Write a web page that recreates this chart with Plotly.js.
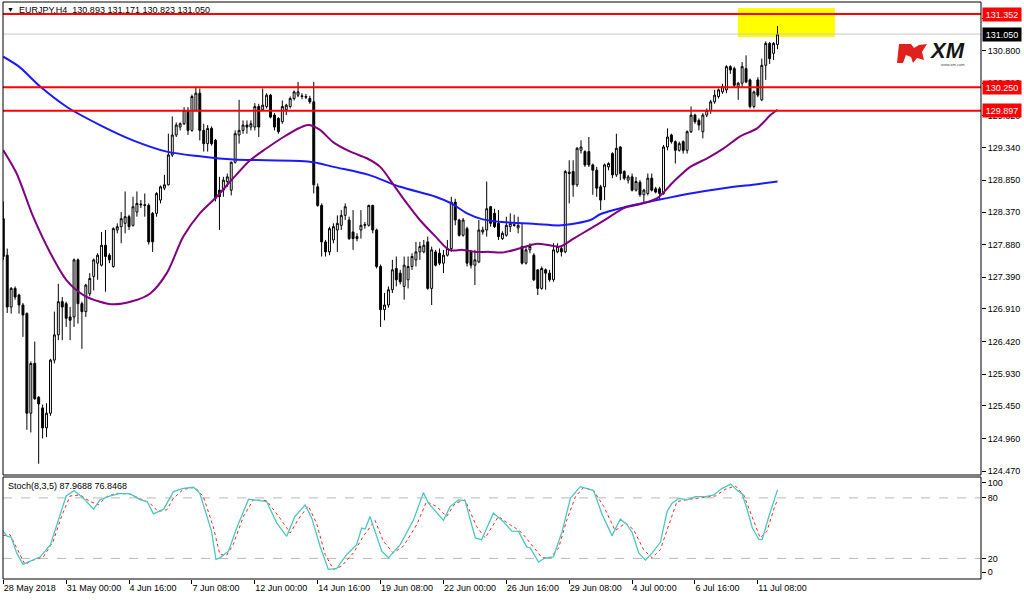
<!DOCTYPE html>
<html><head><meta charset="utf-8">
<script src="https://cdn.plot.ly/plotly-3.0.1.min.js"></script>
<style>html,body{margin:0;padding:0;background:#fff;}#chart{width:1024px;height:600px;}</style>
</head><body><div id="chart"></div>
<script>
// ---------- DATA ----------
const symbolTitle = 'EURJPY,H4\u00a0\u00a0130.893 131.171 130.823 131.050';
const stochTitle = 'Stoch(8,3,5) 87.9688 76.8468';
// [open, high, low, close] per H4 bar
const ohlc = [
[128.27,128.53,127.65,127.70],[127.72,127.82,126.85,126.94],[126.94,127.24,126.84,127.22],[127.22,127.25,127.05,127.09],
[127.12,127.14,126.84,126.97],[126.97,127.00,126.49,126.82],[126.84,126.86,125.09,125.34],[125.34,126.12,125.05,126.09],
[126.09,126.42,125.54,125.56],[125.58,125.60,124.58,125.48],[125.42,125.47,124.96,125.12],[125.12,125.49,124.98,125.34],
[125.34,126.16,125.30,126.14],[126.14,126.87,126.09,126.52],[126.52,127.29,126.44,127.02],[127.02,127.09,126.44,126.94],
[126.99,127.02,126.64,126.77],[126.79,126.94,126.44,126.74],[126.79,127.67,126.64,127.65],[127.65,127.67,126.69,126.99],
[126.99,127.02,126.31,126.87],[126.87,127.29,126.79,127.27],[127.14,127.45,127.10,127.37],[127.40,127.67,127.19,127.65],
[127.60,127.75,127.35,127.72],[127.57,128.07,127.55,127.87],[127.87,128.10,127.17,127.70],[127.72,127.75,127.60,127.65],
[127.55,128.14,127.53,128.12],[128.10,128.20,128.05,128.15],[128.15,128.37,127.90,128.27],[128.20,128.68,128.05,128.30],
[128.30,128.33,128.10,128.15],[128.17,128.60,128.15,128.45],[128.37,128.68,128.30,128.50],[128.49,128.55,128.43,128.48],
[128.48,128.65,128.30,128.47],[128.47,128.50,127.88,127.92],[128.35,128.37,127.77,127.92],[128.35,128.67,128.30,128.65],
[128.55,128.77,128.50,128.75],[128.73,128.93,128.70,128.78],[128.78,129.55,128.77,129.23],[129.23,129.81,129.20,129.53],
[129.53,129.72,129.50,129.68],[129.65,129.72,129.60,129.70],[129.70,129.95,129.68,129.90],[129.90,129.95,129.53,129.60],
[129.60,130.14,129.58,130.11],[129.90,130.26,129.88,130.16],[130.16,130.23,129.45,129.60],[129.60,129.70,129.28,129.40],
[129.40,129.68,129.28,129.63],[129.63,129.66,129.37,129.40],[129.45,129.47,128.53,128.58],[128.70,128.90,128.10,128.60],
[128.70,128.90,128.60,128.85],[128.83,128.95,128.75,128.90],[128.70,129.13,128.62,129.12],[129.12,129.60,129.10,129.55],
[129.53,130.06,129.40,129.60],[129.60,129.75,129.55,129.68],[129.68,129.75,129.55,129.65],[129.65,129.75,129.60,129.70],
[129.65,130.01,129.60,129.96],[129.96,130.00,129.50,129.65],[129.91,130.23,129.90,129.98],[129.96,130.16,129.93,130.13],
[130.13,130.15,129.78,129.80],[129.83,129.86,129.60,129.65],[129.78,129.80,129.55,129.58],[129.73,130.05,129.70,129.96],
[129.91,130.00,129.83,129.98],[129.96,130.11,129.93,130.08],[130.08,130.20,130.05,130.18],[130.13,130.33,130.10,130.18],
[130.12,130.16,130.07,130.11],[130.11,130.15,130.07,130.10],[130.08,130.12,130.00,130.03],[130.03,130.33,128.65,128.78],
[128.75,128.80,128.45,128.47],[128.47,128.50,127.70,127.92],[127.92,127.95,127.70,127.77],[127.77,128.15,127.72,128.12],
[127.95,128.20,127.90,128.15],[128.10,128.32,127.77,128.20],[128.17,128.40,128.10,128.32],[128.32,128.50,128.25,128.45],
[128.25,128.30,127.95,127.97],[128.07,128.40,127.80,127.97],[127.97,128.05,127.93,128.00],[128.10,128.40,127.97,128.17],
[128.17,128.22,128.12,128.18],[128.17,128.48,128.15,128.47],[128.47,128.48,128.05,128.10],[128.10,128.12,127.52,127.55],
[127.55,127.58,126.64,126.90],[126.90,127.15,126.74,126.97],[126.97,127.25,126.93,127.20],[127.20,127.65,127.15,127.50],
[127.52,127.70,127.25,127.35],[127.45,127.50,127.28,127.32],[127.25,127.70,127.05,127.57],[127.35,127.70,127.22,127.55],
[127.55,127.75,127.50,127.70],[127.65,127.92,127.55,127.77],[127.77,127.92,127.65,127.85],[127.77,127.95,127.75,127.87],
[127.92,128.00,127.20,127.22],[127.22,127.85,126.97,127.80],[127.77,127.80,127.55,127.57],[127.75,127.82,127.57,127.60],
[127.60,127.80,127.45,127.72],[127.72,127.95,127.70,127.82],[127.82,128.60,127.77,128.52],[128.52,128.57,128.17,128.25],
[128.25,128.27,128.00,128.02],[128.02,128.28,128.00,128.25],[128.12,128.15,127.55,127.60],[127.77,127.80,127.52,127.57],
[127.57,127.80,127.27,127.65],[127.62,128.25,127.60,128.10],[128.07,128.15,128.03,128.10],[128.10,128.83,128.00,128.42],
[128.45,128.46,128.15,128.20],[128.35,128.42,128.13,128.15],[128.20,128.40,127.95,128.00],[127.97,128.08,127.95,128.05],
[128.02,128.30,128.00,128.17],[128.15,128.35,128.07,128.20],[128.18,128.33,128.15,128.17],[128.13,128.30,128.05,128.17],
[127.85,128.20,127.58,127.60],[127.60,127.85,127.58,127.80],[127.80,127.90,127.75,127.85],[127.72,127.75,127.33,127.35],
[127.50,127.50,127.12,127.22],[127.22,127.55,127.20,127.52],[127.50,127.52,127.20,127.45],[127.45,127.50,127.32,127.35],
[127.35,127.90,127.32,127.80],[127.77,127.90,127.75,127.85],[127.82,127.85,127.70,127.77],[127.77,129.00,127.75,128.98],
[128.97,129.15,128.50,128.95],[128.98,129.15,128.60,128.78],[128.78,129.35,128.75,129.33],[129.30,129.45,129.25,129.35],
[129.28,129.30,129.05,129.08],[129.28,129.50,129.05,129.08],[129.08,129.10,128.63,129.00],[129.00,129.05,128.60,128.73],
[128.75,128.78,128.40,128.55],[128.75,129.10,128.55,129.08],[129.05,129.12,129.00,129.10],[129.25,129.27,128.88,128.93],
[128.93,129.55,128.90,129.33],[129.35,129.36,128.85,128.95],[128.98,129.00,128.85,128.88],[128.85,128.93,128.80,128.90],
[128.90,128.95,128.68,128.70],[128.70,128.90,128.68,128.83],[128.82,128.85,128.60,128.63],[128.63,128.72,128.50,128.70],
[128.65,128.95,128.62,128.88],[128.88,128.95,128.68,128.70],[128.72,128.75,128.65,128.67],[128.72,128.75,128.55,128.65],
[128.65,129.38,128.63,129.35],[129.35,129.63,129.30,129.50],[129.53,129.55,129.40,129.43],[129.43,129.45,129.10,129.30],
[129.30,129.43,129.28,129.40],[129.43,129.45,129.25,129.30],[129.30,129.60,129.25,129.58],[129.58,129.96,129.56,129.83],
[129.83,129.85,129.70,129.73],[129.75,129.78,129.60,129.68],[129.58,129.86,129.48,129.83],[129.83,129.93,129.80,129.90],
[129.90,130.06,129.85,130.03],[130.03,130.21,130.00,130.13],[130.11,130.23,130.08,130.21],[130.18,130.30,130.15,130.26],
[130.21,130.58,130.16,130.56],[130.56,130.58,130.45,130.51],[130.53,130.56,130.25,130.28],[130.26,130.33,130.06,130.31],
[130.31,130.63,130.26,130.56],[130.53,130.73,130.31,130.33],[130.36,130.38,129.93,129.96],[129.96,130.20,129.93,130.18],
[130.36,130.40,130.10,130.13],[130.06,130.68,130.04,130.58],[130.58,130.94,130.36,130.91],[130.91,130.93,130.60,130.68],
[130.76,130.93,130.66,130.91],[130.893,131.171,130.823,131.050]
];
const tickBars = [0,16,32,48,64,80,96,112,128,144,160,176,192];
const tickLabels = ['28 May 2018','31 May 00:00','4 Jun 16:00','7 Jun 08:00','12 Jun 00:00','14 Jun 16:00','19 Jun 08:00','22 Jun 00:00','26 Jun 16:00','29 Jun 08:00','4 Jul 00:00','6 Jul 16:00','11 Jul 08:00'];
const priceTicks = [124.47,124.96,125.45,125.93,126.42,126.91,127.39,127.88,128.37,128.85,129.34,129.82,130.31,130.80,131.29];
const levelPrices = [131.352, 130.250, 129.897];
const bidPrice = 131.050;
const zoneBars = [186.9, 211.6];
const zonePrices = [131.006, 131.443];
// slow moving average (blue)
const maSlowX = [0,4,9.4,16,24.6,33,41.6,50,58.5,67,75.5,79,84,93,101,110,114,118,122,127,135.5,142,149.4,152,157.9,166.4,174.8,183.3,191.8,197];
const maSlowY = [130.71,130.56,130.26,129.96,129.68,129.45,129.28,129.21,129.16,129.15,129.14,129.12,129.05,128.93,128.75,128.60,128.50,128.35,128.26,128.22,128.19,128.17,128.25,128.34,128.44,128.55,128.65,128.73,128.79,128.83];
// fast moving average (purple)
const maFastX = [0,3.4,7.6,12,16,20.4,24.6,28,33,37.3,41.6,45.8,50,54.3,58.5,62.8,67,71.3,75.5,77.6,80.5,84,88.3,92.5,95.9,99.3,102.7,106,110,113.5,116.9,120.3,123.7,127,131.3,135.5,139,141.7,145.1,149.4,153.6,157.9,162.1,166.4,170.6,174.8,179.1,183.3,187.5,191.8,195.2,197];
const maFastY = [129.30,128.95,128.30,127.75,127.35,127.12,127.02,126.98,127.03,127.14,127.45,128.00,128.35,128.60,128.88,129.15,129.33,129.50,129.64,129.68,129.61,129.42,129.28,129.18,129.05,128.78,128.50,128.25,128.00,127.80,127.80,127.77,127.77,127.76,127.82,127.89,127.87,127.85,127.97,128.12,128.27,128.43,128.49,128.58,128.83,129.05,129.18,129.33,129.51,129.63,129.83,129.91];
// stochastic main line
const stochMainX = [0,1,2,3.4,5,6.9,9.4,12,13.6,16,18,20.4,23,24.6,27.2,29.8,32.3,34.9,36.6,38.2,40.8,43.3,45.8,48.4,50,51.3,53,54.1,55.1,57.3,59.4,62.4,63.6,67,69.6,72.1,74.2,76.8,78.5,80.6,82.7,84.8,87.4,89.9,91.2,92.1,93.3,95,96.3,98,101,104.4,106.9,108.2,112,113.7,115.8,117.5,120.1,121.7,124.7,127.2,129.4,131.1,133.2,134.1,136.2,137.9,140,142.2,144.3,146.8,149,150.2,152.4,154.9,157,158.7,160,161.7,163.4,165.1,167.2,168.9,170.2,171.9,174,176.1,178.7,180.8,182.9,185.1,186.8,188,189.3,190.6,192.3,193.1,194.8,197];
const stochMainY = [46.8,41.9,41,25.5,14.1,17.3,21.6,33.7,53.4,81.9,87.2,79.6,68.8,78,81.9,84.5,83.9,78,76.4,64.2,68.8,86.2,89.5,90.5,84.5,68.2,46.8,19.0,20.6,27.2,50.1,78.7,78,76.4,55,41.9,61.6,73,59.9,32.1,9.1,9.8,23.9,33.7,50.1,49.1,61.6,41.9,27.2,20.6,33.7,58.3,85.2,74.7,57.7,71.4,78,77.3,40.3,38.6,64.9,56.7,47,46.8,31.4,30.4,16.3,20.6,21.6,46.8,79.6,91.1,88.5,87.2,63.2,42.6,59.0,53.4,45.9,25.5,18.3,25.5,36.0,66.5,74.7,79.6,78,81.3,81.3,82.9,89.5,93.7,87.2,83.9,68.2,50.1,38.6,38.6,61.6,87.97];
// stochastic signal line
const stochSignalX = [0,1.7,3.4,5.5,7.6,10.2,12.7,14.8,17,19.5,22.1,24.2,26.3,28.8,32.2,34.8,37.3,39.4,41.6,43.3,45.8,48.8,50.9,53.4,55.1,56.8,58.5,61.1,63.6,67,70.4,73,75.1,77.6,79.7,81.9,84,86.1,89.1,91.6,94.6,96.7,99.2,101.8,105.2,107.7,110.3,112.8,115,117.5,120.4,122.6,126,128.9,130.3,132,134.5,137.1,139.2,141.3,143.4,145.6,147.7,150.2,152.8,155.7,158.3,160.4,162.9,165.1,167.2,169.3,171.4,174.4,177.8,181.2,183.7,186.3,188.4,190.5,192.6,194.3,196.4,197];
const stochSignalY = [42.6,43.6,30.4,14.1,18.3,21.6,37.0,61.6,81.9,82.9,76.4,73.1,81.3,84.5,83.9,79.6,74.7,66.5,68.2,79.6,88.5,90.5,81.3,51.8,23.9,22.9,33.7,61.6,78,77.3,59.9,45.2,59.0,72.1,55,23.9,9.1,12.4,25.5,41.9,57.7,37.0,25.5,32.1,53.4,76.4,71.4,61.6,74.7,78,51.8,40.3,61.6,53.4,50.1,45.2,33.7,20.6,20.6,30.4,58.3,81.3,90.5,87.2,71.4,47.5,55,48.5,28.8,20.6,28.8,53.4,76.4,78.6,80.6,81.9,88.5,91.8,82.9,61.6,40.3,46.8,73.1,76.85];
const stochLevels = [20, 80];
const stochTickVals = [94.8, 80, 20, 6.3];
const stochTickText = ['100', '80', '20', '0'];

// ---------- LAYOUT HELPERS ----------
const W = 1024, H = 600, ML = 3, MR = 43, MT = 2, MB = 21;
const PW = W - ML - MR, PH = H - MT - MB;
const pxX = x => (x - ML) / PW;
const pxY = y => (H - MB - y) / PH;
const FONT = 'Liberation Sans, Arial, sans-serif';

const barIndex = ohlc.map((_, i) => i);
const traces = [
  { type: 'candlestick', x: barIndex,
    open: ohlc.map(r => r[0]), high: ohlc.map(r => r[1]), low: ohlc.map(r => r[2]), close: ohlc.map(r => r[3]),
    xaxis: 'x', yaxis: 'y', whiskerwidth: 0,
    increasing: { line: { color: '#000', width: 1 }, fillcolor: '#ffffff' },
    decreasing: { line: { color: '#000', width: 1 }, fillcolor: '#000000' },
    hoverinfo: 'skip', showlegend: false },
  { type: 'scatter', mode: 'lines', x: maSlowX, y: maSlowY, xaxis: 'x', yaxis: 'y',
    line: { color: '#1a1aff', width: 2, shape: 'spline', smoothing: 0.8 }, hoverinfo: 'skip' },
  { type: 'scatter', mode: 'lines', x: maFastX, y: maFastY, xaxis: 'x', yaxis: 'y',
    line: { color: '#800080', width: 2, shape: 'spline', smoothing: 0.8 }, hoverinfo: 'skip' },
  { type: 'scatter', mode: 'lines', x: stochSignalX, y: stochSignalY, xaxis: 'x', yaxis: 'y2',
    line: { color: '#ff2020', width: 1, dash: 'dot' }, hoverinfo: 'skip' },
  { type: 'scatter', mode: 'lines', x: stochMainX, y: stochMainY, xaxis: 'x', yaxis: 'y2',
    line: { color: '#48c8c0', width: 1.3 }, hoverinfo: 'skip' }
];

const shapes = [];
shapes.push({ type: 'rect', xref: 'x', yref: 'y', x0: zoneBars[0], x1: zoneBars[1], y0: zonePrices[0], y1: zonePrices[1],
  fillcolor: '#ffff00', line: { width: 0 }, layer: 'below' });
shapes.push({ type: 'line', xref: 'paper', yref: 'y', x0: 0, x1: 1, y0: bidPrice, y1: bidPrice,
  line: { color: '#c8c8c8', width: 1 }, layer: 'above' });
levelPrices.forEach(p => shapes.push({ type: 'line', xref: 'paper', yref: 'y', x0: 0, x1: 1, y0: p, y1: p,
  line: { color: '#ff0000', width: 2 }, layer: 'above' }));
stochLevels.forEach(v => shapes.push({ type: 'line', xref: 'paper', yref: 'y2', x0: 0, x1: 1, y0: v, y1: v,
  line: { color: '#b8b8b8', width: 1, dash: 'dash' }, layer: 'below' }));
// panel frames
shapes.push({ type: 'rect', xref: 'paper', yref: 'paper', x0: 0, x1: 1, y0: pxY(475), y1: 1,
  line: { color: '#000', width: 1 }, fillcolor: 'rgba(0,0,0,0)', layer: 'above' });
shapes.push({ type: 'rect', xref: 'paper', yref: 'paper', x0: 0, x1: 1, y0: 0, y1: pxY(477),
  line: { color: '#000', width: 1 }, fillcolor: 'rgba(0,0,0,0)', layer: 'above' });
// logo flag
const flagPts = [[899,44],[911,44],[914,48],[919,45],[927,44],[922,52],[924,60],[917,58],[913,63],[911,57],[906,55],[903,63],[897,63]];
shapes.push({ type: 'path', xref: 'paper', yref: 'paper',
  path: 'M' + flagPts.map(p => pxX(p[0]).toFixed(5) + ',' + pxY(p[1]).toFixed(5)).join(' L') + ' Z',
  fillcolor: '#e0201c', line: { width: 0 }, layer: 'above' });

const annotations = [
  { xref: 'paper', yref: 'paper', x: pxX(5), y: pxY(9), xanchor: 'left', yanchor: 'middle', showarrow: false,
    text: '\u25BC', font: { family: FONT, size: 7, color: '#000' } },
  { xref: 'paper', yref: 'paper', x: pxX(17), y: pxY(9.5), xanchor: 'left', yanchor: 'middle', showarrow: false,
    text: symbolTitle, font: { family: FONT, size: 9, color: '#000' } },
  { xref: 'paper', yref: 'paper', x: pxX(6), y: pxY(486), xanchor: 'left', yanchor: 'middle', showarrow: false,
    text: stochTitle, font: { family: FONT, size: 9, color: '#000' } },
  { xref: 'paper', yref: 'paper', x: pxX(927), y: pxY(50.5), xanchor: 'left', yanchor: 'middle', showarrow: false,
    text: '<b><i>XM</i></b>', font: { family: FONT, size: 22, color: '#151515' } },
  { xref: 'paper', yref: 'paper', x: pxX(939), y: pxY(65), xanchor: 'left', yanchor: 'middle', showarrow: false,
    text: 'www.xm.com', font: { family: FONT, size: 4, color: '#444' } }
];
levelPrices.forEach(p => annotations.push({ xref: 'paper', yref: 'y', x: 1, y: p, xanchor: 'left', yanchor: 'middle',
  xshift: 1, showarrow: false, text: p.toFixed(3), bgcolor: '#ff0000', borderpad: 1, width: 36, height: 11,
  font: { family: FONT, size: 9, color: '#ffffff' } }));
annotations.push({ xref: 'paper', yref: 'y', x: 1, y: bidPrice, xanchor: 'left', yanchor: 'middle',
  xshift: 1, showarrow: false, text: bidPrice.toFixed(3), bgcolor: '#000000', borderpad: 1, width: 36, height: 11,
  font: { family: FONT, size: 9, color: '#ffffff' } });

const layout = {
  width: W, height: H, margin: { l: ML, r: MR, t: MT, b: MB, pad: 0 },
  paper_bgcolor: '#ffffff', plot_bgcolor: '#ffffff', showlegend: false, hovermode: false,
  font: { family: FONT, size: 9, color: '#000' },
  xaxis: { domain: [0, 1], anchor: 'y2', range: [-0.076, 248.78], tickmode: 'array', tickvals: tickBars, ticktext: tickLabels,
    ticks: 'outside', ticklen: 4, tickcolor: '#000', ticklabelposition: 'outside right',
    showgrid: false, zeroline: false, showline: false, rangeslider: { visible: false }, fixedrange: true,
    tickfont: { family: FONT, size: 9, color: '#000' } },
  yaxis: { domain: [pxY(475), 1], anchor: 'x', side: 'right', range: [124.4098, 131.5333],
    tickmode: 'array', tickvals: priceTicks, ticktext: priceTicks.map(v => v.toFixed(3)),
    ticks: 'outside', ticklen: 4, tickcolor: '#000', showgrid: false, zeroline: false, showline: false, fixedrange: true,
    tickfont: { family: FONT, size: 9, color: '#000' } },
  yaxis2: { domain: [0, pxY(477)], anchor: 'x', side: 'right', range: [-0.4, 100.7],
    tickmode: 'array', tickvals: stochTickVals, ticktext: stochTickText,
    ticks: 'outside', ticklen: 4, tickcolor: '#000', showgrid: false, zeroline: false, showline: false, fixedrange: true,
    tickfont: { family: FONT, size: 9, color: '#000' } },
  shapes: shapes, annotations: annotations
};

Plotly.newPlot('chart', traces, layout, { staticPlot: true, displayModeBar: false });
</script>
</body></html>
